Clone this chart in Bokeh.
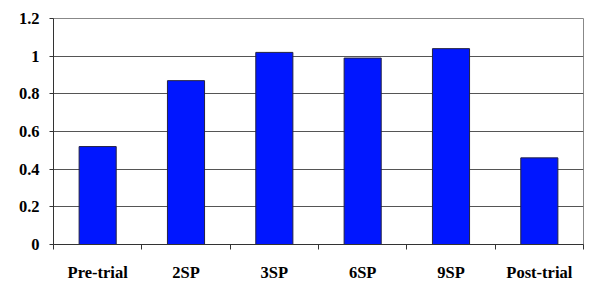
from bokeh.plotting import figure
from bokeh.models import Range1d, FixedTicker, ColumnDataSource
from bokeh.embed import file_html
from bokeh.resources import INLINE

categories = ["Pre-trial", "2SP", "3SP", "6SP", "9SP", "Post-trial"]
values = [0.52, 0.87, 1.02, 0.99, 1.04, 0.46]
y_ticks = [0, 0.2, 0.4, 0.6, 0.8, 1.0, 1.2]
y_labels = ["0", "0.2", "0.4", "0.6", "0.8", "1", "1.2"]

xpos = [i + 0.5 for i in range(len(categories))]
src = ColumnDataSource(dict(x=xpos, top=values, cat=categories))

p = figure(width=600, height=303, output_backend="svg", toolbar_location=None,
           x_range=Range1d(0, len(categories)), y_range=Range1d(0, 1.2),
           min_border_left=53, min_border_right=17, min_border_top=18, min_border_bottom=59)

p.vbar(x="x", top="top", width=0.42, bottom=0, source=src,
       fill_color="#0016FF", line_color="#222244", line_width=1)

p.xgrid.visible = False
p.ygrid.ticker = FixedTicker(ticks=y_ticks)
p.ygrid.grid_line_color = "#555555"
p.ygrid.grid_line_width = 1

p.outline_line_color = "#888888"
p.outline_line_width = 1

p.yaxis.ticker = FixedTicker(ticks=y_ticks)
p.yaxis.major_label_overrides = {t: l for t, l in zip(y_ticks, y_labels)}
p.yaxis.minor_tick_line_color = None
p.yaxis.major_tick_in = 0
p.yaxis.major_tick_out = 4
p.yaxis.axis_line_color = "#333333"
p.yaxis.major_tick_line_color = "#333333"
p.yaxis.major_label_standoff = 10

p.xaxis.ticker = FixedTicker(ticks=xpos, minor_ticks=list(range(len(categories) + 1)))
p.xaxis.major_label_overrides = {x: c for x, c in zip(xpos, categories)}
p.xaxis.major_tick_line_color = None
p.xaxis.minor_tick_in = 0
p.xaxis.minor_tick_out = 5
p.xaxis.minor_tick_line_color = "#333333"
p.xaxis.axis_line_color = "#333333"
p.xaxis.major_label_standoff = 12

for ax in (p.xaxis, p.yaxis):
    ax.major_label_text_font = "Liberation Serif"
    ax.major_label_text_font_style = "bold"
    ax.major_label_text_font_size = "16.5px"
    ax.major_label_text_color = "#000000"

open("out.html", "w").write(file_html(p, INLINE))
